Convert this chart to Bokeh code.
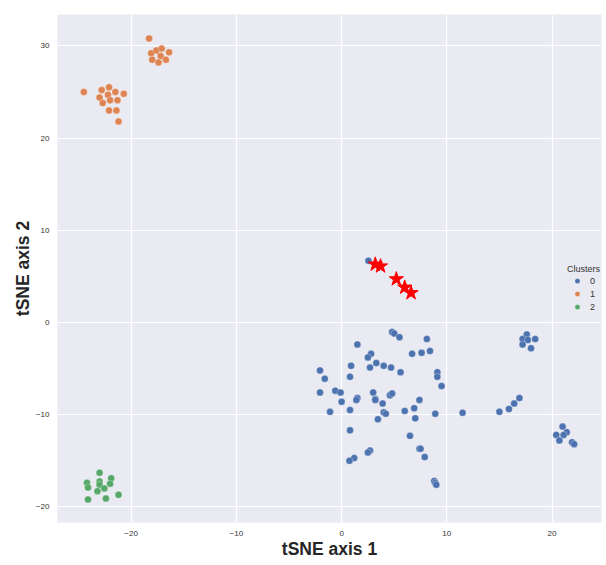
from bokeh.plotting import figure
from bokeh.models import Range1d, Legend, LegendItem, FixedTicker
from bokeh.embed import file_html
from bokeh.resources import INLINE

# Cluster 0 (blue)
c0_x = [2.55, 4.8, 5.0, 5.5, 8.1, 1.5, 2.8, 2.5, 6.7, 7.6, 8.4,
        0.9, 3.3, 4.0, 4.7, 2.7, -2.05,
        5.6, 9.1, 9.1, 9.5, -1.6, 0.8, -2.05, -0.6, -0.1, 0.0, 3.0, 1.5, 1.4, 3.2, 3.2, 3.9, 4.6, 4.8,
        7.4, 6.9, 6.0, -1.1, 0.8, 4.0, 4.2, 3.45, 7.0, 8.9, 11.5, 0.8, 6.5, 7.4, 7.5, 7.9,
        2.7, 2.5, 1.2, 0.75, 8.8, 8.9, 9.0,
        17.6, 17.2, 17.7, 18.4, 17.2, 18.0, 16.9, 16.4, 15.9, 15.0,
        21.0, 21.4, 20.4, 21.1, 20.7, 21.9, 22.1]
c0_y = [6.7, -1.05, -1.2, -1.6, -1.8, -2.4, -3.4, -3.8, -3.4, -3.3, -3.1,
        -4.7, -4.4, -4.7, -4.9, -4.9, -5.2,
        -5.4, -5.4, -5.9, -6.9, -6.1, -5.9, -7.6, -7.4, -7.6, -8.6, -7.6, -8.2, -8.4, -8.3, -8.4, -8.8, -7.9, -7.7,
        -8.4, -9.3, -9.6, -9.7, -9.5, -9.75, -9.9, -10.5, -10.4, -9.9, -9.8, -11.7, -12.3, -13.7, -13.7, -14.6,
        -13.9, -14.1, -14.7, -15.0, -17.2, -17.4, -17.6,
        -1.3, -1.8, -1.9, -1.8, -2.4, -2.8, -8.2, -8.8, -9.4, -9.7,
        -11.3, -11.9, -12.2, -12.2, -12.8, -13.0, -13.2]

# Cluster 1 (orange)
c1_x = [-18.3, -18.1, -17.6, -17.1, -16.4, -17.2, -18.0, -17.4, -16.7,
        -24.5, -22.8, -22.1, -21.5, -20.7, -22.2, -23.0, -22.0, -21.3, -22.7, -22.1, -21.4, -21.2]
c1_y = [30.8, 29.2, 29.5, 29.7, 29.3, 28.9, 28.5, 28.2, 28.5,
        25.0, 25.2, 25.5, 25.0, 24.8, 24.7, 24.4, 24.1, 24.1, 23.8, 23.0, 23.0, 21.8]

# Cluster 2 (green)
c2_x = [-23.0, -24.2, -24.1, -23.0, -21.9, -22.0, -23.0, -22.55, -23.2, -21.2, -24.1, -22.4]
c2_y = [-16.3, -17.4, -17.9, -17.25, -16.9, -17.5, -17.6, -18.0, -18.3, -18.7, -19.2, -19.1]

# Highlighted points (red stars)
star_x = [3.2, 3.7, 5.2, 6.0, 6.6]
star_y = [6.3, 6.1, 4.7, 3.8, 3.2]

cluster_labels = ["0", "1", "2"]
x_ticks = [-20, -10, 0, 10, 20]
y_ticks = [-20, -10, 0, 10, 20, 30]

p = figure(width=602, height=564, output_backend="svg", toolbar_location=None,
           x_range=Range1d(-27.0, 24.7), y_range=Range1d(-21.7, 33.4),
           min_border_left=57, min_border_right=1, min_border_top=14, min_border_bottom=42)

p.background_fill_color = "#EAEAF2"
p.border_fill_color = "white"
p.outline_line_color = None
p.grid.grid_line_color = "white"
p.grid.grid_line_width = 1.2

for ax in (p.xaxis, p.yaxis):
    ax.axis_line_color = None
    ax.major_tick_line_color = None
    ax.minor_tick_line_color = None
    ax.major_tick_out = 0
    ax.major_tick_in = 0
    ax.minor_tick_out = 0
    ax.minor_tick_in = 0
    ax.major_label_text_font = "Liberation Sans"
    ax.major_label_text_font_size = "8px"
    ax.major_label_text_color = "#333333"
    ax.axis_label_text_font = "Liberation Sans"
    ax.axis_label_text_font_style = "bold"
    ax.axis_label_text_font_size = "17.5px"
    ax.axis_label_text_color = "#262626"
    ax.major_label_standoff = 8
    ax.axis_label_standoff = 0

p.xaxis.ticker = FixedTicker(ticks=x_ticks)
p.yaxis.ticker = FixedTicker(ticks=y_ticks)
p.xaxis.axis_label = "tSNE axis 1"
p.yaxis.axis_label = "tSNE axis 2"

colors = ["#4C72B0", "#DD8452", "#55A868"]
r0 = p.scatter(c0_x, c0_y, size=7, fill_color=colors[0], line_color="white", line_width=0.3)
r1 = p.scatter(c1_x, c1_y, size=7, fill_color=colors[1], line_color="white", line_width=0.3)
r2 = p.scatter(c2_x, c2_y, size=7, fill_color=colors[2], line_color="white", line_width=0.3)
p.scatter(star_x, star_y, marker="star", size=15, fill_color="red", line_color="red")

legend = Legend(items=[LegendItem(label=cluster_labels[0], renderers=[r0]),
                       LegendItem(label=cluster_labels[1], renderers=[r1]),
                       LegendItem(label=cluster_labels[2], renderers=[r2])],
                title="Clusters", location=(510, 209))
legend.background_fill_alpha = 0
legend.border_line_color = None
legend.title_text_font = "Liberation Sans"
legend.title_text_font_size = "9px"
legend.title_text_font_style = "normal"
legend.title_text_color = "#333333"
legend.title_standoff = 0
legend.label_text_font = "Liberation Sans"
legend.label_text_font_size = "9px"
legend.label_text_color = "#333333"
legend.label_standoff = 3
legend.glyph_width = 20
legend.glyph_height = 13
legend.label_height = 13
legend.spacing = 0
legend.padding = 4
p.add_layout(legend, "center")

open("out.html", "w").write(file_html(p, INLINE))
